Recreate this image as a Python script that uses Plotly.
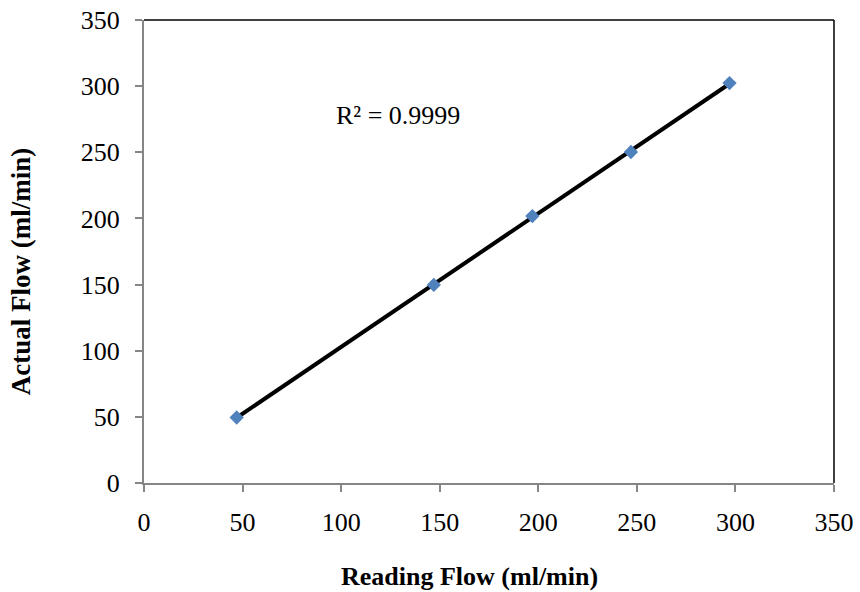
import numpy as np
import plotly.graph_objects as go

reading = [47, 147, 197, 247, 297]
actual = [49.5, 149.7, 201.8, 250.2, 302.3]
x_ticks = [0, 50, 100, 150, 200, 250, 300, 350]
y_ticks = [0, 50, 100, 150, 200, 250, 300, 350]
r2_label = "R² = 0.9999"
x_title = "<b>Reading Flow (ml/min)</b>"
y_title = "<b>Actual Flow (ml/min)</b>"

font = "Liberation Serif, Times New Roman, serif"
fs = 26
slope, inter = np.polyfit(reading, actual, 1)
xl = [min(reading), max(reading)]
yl = [slope * v + inter for v in xl]

fig = go.Figure()
fig.add_trace(go.Scatter(x=xl, y=yl, mode="lines",
                         line=dict(color="black", width=4), showlegend=False))
fig.add_trace(go.Scatter(x=reading, y=actual, mode="markers",
                         marker=dict(symbol="diamond", size=11, color="#4F81BD"),
                         showlegend=False))
fig.add_annotation(x=129, y=278, text=r2_label, showarrow=False,
                   font=dict(family=font, size=fs, color="black"))
fig.add_annotation(xref="paper", yref="paper", x=0.4717, y=-0.203, text=x_title,
                   showarrow=False, xanchor="center", yanchor="middle",
                   font=dict(family=font, size=fs, color="black"))
fig.add_annotation(xref="paper", yref="paper", x=-0.178, y=0.4557, text=y_title,
                   showarrow=False, xanchor="center", yanchor="middle", textangle=-90,
                   font=dict(family=font, size=fs + 1, color="black"))
fig.add_shape(type="line", xref="paper", yref="paper", x0=0, x1=1, y0=1, y1=1,
              line=dict(color="black", width=1.5))
fig.add_shape(type="line", xref="paper", yref="paper", x0=1, x1=1, y0=0, y1=1,
              line=dict(color="black", width=1.5))

axis_common = dict(showgrid=False, zeroline=False, showline=True, linecolor="#868686",
                   linewidth=2, ticks="outside", tickcolor="#868686", ticklen=7,
                   tickwidth=2, automargin=False,
                   tickfont=dict(family=font, size=fs, color="black"))
fig.update_xaxes(range=[0, 350], tickvals=x_ticks, ticklabelstandoff=8, **axis_common)
fig.update_yaxes(range=[0, 350], tickvals=y_ticks, ticklabelstandoff=10, **axis_common)
fig.update_layout(width=860, height=592, margin=dict(l=144, r=26, t=20, b=109),
                  plot_bgcolor="white", paper_bgcolor="white")
fig.write_html("out.html", config={"displayModeBar": False},
               post_script="document.body.style.margin='0';")
